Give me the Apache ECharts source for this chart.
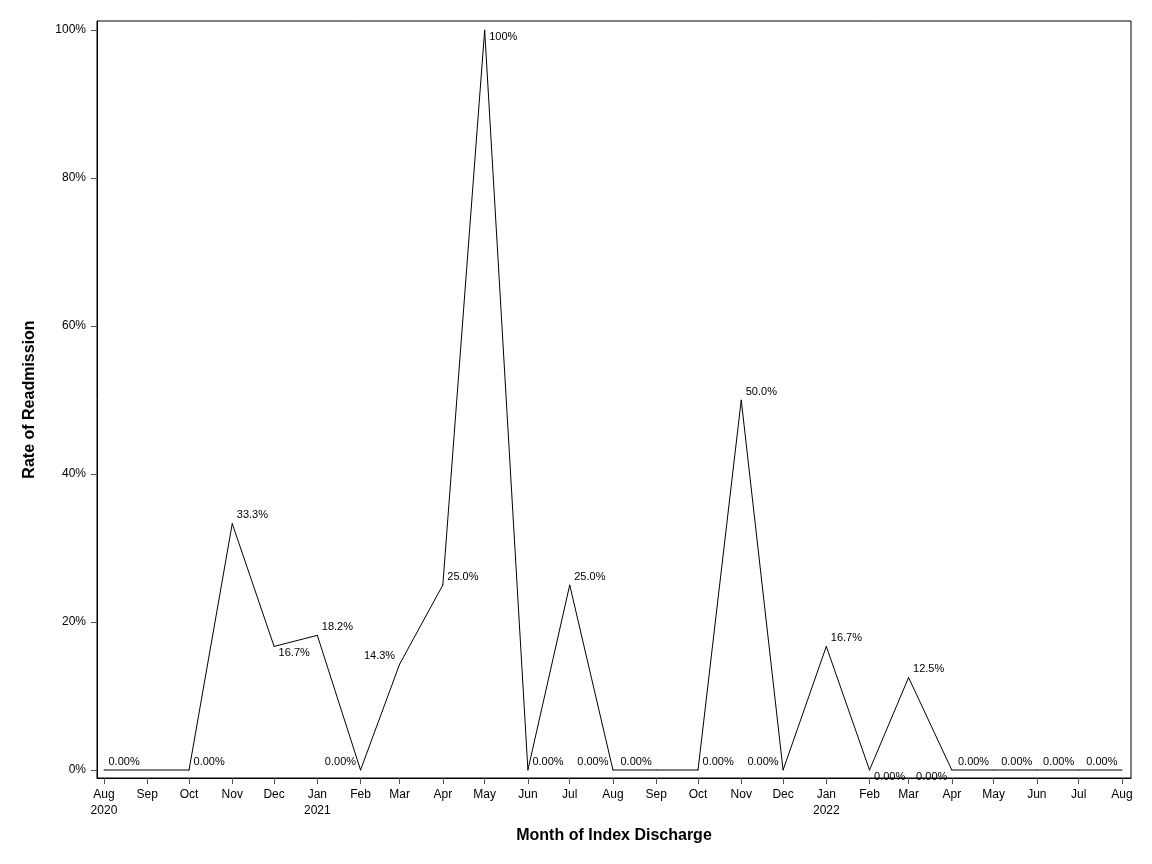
<!DOCTYPE html>
<html>
<head>
<meta charset="utf-8">
<script src="https://cdn.jsdelivr.net/npm/echarts@6/dist/echarts.min.js"></script>
<style>
  html, body { margin: 0; padding: 0; background: #fff; }
  #chart { width: 1152px; height: 864px; }
</style>
</head>
<body>
<div id="chart"></div>
<script>
// monthly readmission rates (Sep 2020 has no data)
var months = ['2020-08-01', '2020-10-01', '2020-11-01', '2020-12-01', '2021-01-01', '2021-02-01',
  '2021-03-01', '2021-04-01', '2021-05-01', '2021-06-01', '2021-07-01', '2021-08-01', '2021-09-01',
  '2021-10-01', '2021-11-01', '2021-12-01', '2022-01-01', '2022-02-01', '2022-03-01', '2022-04-01',
  '2022-05-01', '2022-06-01', '2022-07-01', '2022-08-01'];
var rates = [0, 0, 0.333, 0.167, 0.182, 0, 0.143, 0.25, 1, 0, 0.25, 0, 0, 0, 0.5, 0, 0.167, 0, 0.125, 0,
  0, 0, 0, 0];
// where each point label sits: r/l = right/left, a/b = above/below
var labelSpots = ['ra', 'ra', 'ra', 'rb', 'ra', 'la', 'la', 'ra', 'rb', 'ra', 'ra', 'la', 'la',
  'ra', 'ra', 'la', 'ra', 'rb', 'ra', 'lb', 'la', 'la', 'la', 'la'];

var yTicks = [0, 0.2, 0.4, 0.6, 0.8, 1];
var monthNames = ['Jan', 'Feb', 'Mar', 'Apr', 'May', 'Jun', 'Jul', 'Aug', 'Sep', 'Oct', 'Nov', 'Dec'];
var xTicks = [];
for (var y = 2020, m = 7; y < 2022 || m <= 7; ) {
    xTicks.push(Date.UTC(y, m, 1));
    m++;
    if (m > 11) { m = 0; y++; }
}

function fmtRate(v) {
    if (v === 0) return '0.00%';
    return (v * 100).toPrecision(3) + '%';
}

var font = 'Liberation Sans, Arial, sans-serif';
var seriesData = months.map(function (d, i) {
    var s = labelSpots[i];
    var right = s[0] === 'r';
    return {
        value: [Date.parse(d + 'T00:00:00Z'), rates[i]],
        label: {
            position: [right ? 5 : -4, s[1] === 'a' ? -8 : 7],
            align: right ? 'left' : 'right',
            verticalAlign: 'middle'
        }
    };
});

var myChart = echarts.init(document.getElementById('chart'));
var option = {
    animation: false,
    backgroundColor: '#fff',
    grid: {
        left: 97, right: 21, top: 21, bottom: 86,
        show: true, borderColor: '#000', borderWidth: 1
    },
    xAxis: {
        // dates as timestamps on a value axis so the month ticks can be placed exactly
        type: 'value',
        min: Date.UTC(2020, 6, 27),
        max: Date.UTC(2022, 7, 7, 12),
        name: 'Month of Index Discharge',
        nameLocation: 'middle',
        nameGap: 50,
        nameTextStyle: { fontFamily: font, fontSize: 16, fontWeight: 'bold', color: '#000' },
        axisLine: { show: true, onZero: false, lineStyle: { color: '#000', width: 1 } },
        axisTick: { show: true, length: 6, customValues: xTicks, lineStyle: { color: '#555' } },
        splitLine: { show: false },
        axisLabel: {
            customValues: xTicks,
            hideOverlap: false,
            margin: 9,
            fontFamily: font, fontSize: 12, color: '#000', lineHeight: 16,
            formatter: function (v) {
                var d = new Date(v);
                var mo = d.getUTCMonth();
                var name = monthNames[mo];
                if (mo === 0 || v === xTicks[0]) name += '\n' + d.getUTCFullYear();
                return name;
            }
        }
    },
    yAxis: {
        type: 'value',
        min: -0.0108,
        max: 1.0122,
        name: 'Rate of Readmission',
        nameLocation: 'middle',
        nameGap: 59,
        nameTextStyle: { fontFamily: font, fontSize: 16, fontWeight: 'bold', color: '#000' },
        axisLine: { show: true, onZero: false, lineStyle: { color: '#000', width: 1 } },
        axisTick: { show: true, length: 6, customValues: yTicks, lineStyle: { color: '#555' } },
        splitLine: { show: false },
        axisLabel: {
            customValues: yTicks,
            margin: 11,
            fontFamily: font, fontSize: 12, color: '#000',
            formatter: function (v) { return Math.round(v * 100) + '%'; }
        }
    },
    series: [{
        type: 'line',
        data: seriesData,
        symbol: 'circle',
        symbolSize: 1,
        itemStyle: { color: '#000' },
        lineStyle: { color: '#000', width: 1 },
        label: {
            show: true,
            fontFamily: font, fontSize: 11, color: '#000',
            formatter: function (p) { return fmtRate(p.value[1]); }
        }
    }]
};
myChart.setOption(option);
</script>
</body>
</html>
